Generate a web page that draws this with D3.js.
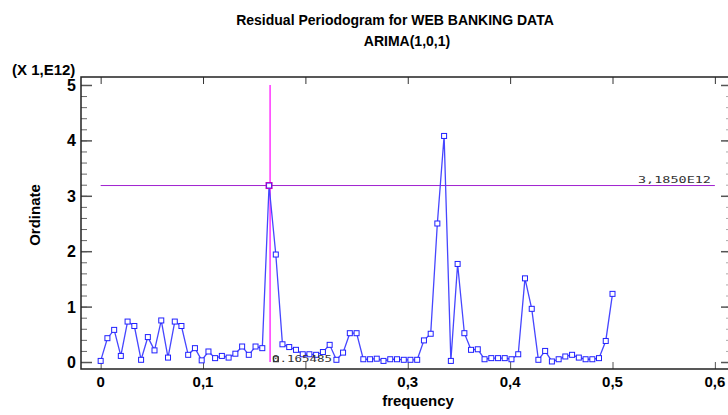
<!DOCTYPE html>
<html>
<head>
<meta charset="utf-8">
<script src="https://cdn.jsdelivr.net/npm/d3@7"></script>
<style>
  body { margin: 0; background: #fff; }
  svg text { font-family: "Liberation Sans", Arial, sans-serif; }
</style>
</head>
<body>
<div id="mount"></div>
<script>
// periodogram ordinates, in units of 1E12
var frequency = [
  0, 0.0066, 0.0132, 0.0197, 0.0263, 0.0329, 0.0395, 0.0461, 0.0526, 0.0592,
  0.0658, 0.0724, 0.0789, 0.0855, 0.0921, 0.0987, 0.1053, 0.1118, 0.1184, 0.125,
  0.1316, 0.1382, 0.1447, 0.1513, 0.1579, 0.1645, 0.1711, 0.1776, 0.1842, 0.1908,
  0.1974, 0.2039, 0.2105, 0.2171, 0.2237, 0.2303, 0.2368, 0.2434, 0.25, 0.2566,
  0.2632, 0.2697, 0.2763, 0.2829, 0.2895, 0.2961, 0.3026, 0.3092, 0.3158, 0.3224,
  0.3289, 0.3355, 0.3421, 0.3487, 0.3553, 0.3618, 0.3684, 0.375, 0.3816, 0.3882,
  0.3947, 0.4013, 0.4079, 0.4145, 0.4211, 0.4276, 0.4342, 0.4408, 0.4474, 0.4539,
  0.4605, 0.4671, 0.4737, 0.4803, 0.4868, 0.4934, 0.5
];
var ordinate = [
  0.02, 0.43, 0.58, 0.11, 0.73, 0.65, 0.04, 0.45, 0.21, 0.75,
  0.08, 0.73, 0.65, 0.13, 0.25, 0.03, 0.19, 0.07, 0.11, 0.08,
  0.15, 0.28, 0.13, 0.28, 0.25, 3.185, 1.94, 0.32, 0.27, 0.22,
  0.14, 0.14, 0.13, 0.18, 0.31, 0.04, 0.17, 0.52, 0.52, 0.05,
  0.05, 0.06, 0.02, 0.05, 0.05, 0.04, 0.04, 0.04, 0.39, 0.51,
  2.50, 4.08, 0.02, 1.77, 0.52, 0.22, 0.23, 0.05, 0.07, 0.07,
  0.07, 0.05, 0.14, 1.51, 0.96, 0.04, 0.20, 0.01, 0.05, 0.10,
  0.13, 0.08, 0.05, 0.05, 0.07, 0.38, 1.23
];
var xTicks = [0, 0.1, 0.2, 0.3, 0.4, 0.5, 0.6];
var yTicks = [0, 1, 2, 3, 4, 5];
var cursorFreq = 0.1655;
var cursorLabel = '0.165485';
var levelValue = 3.185;
var levelLabel = '3,1850E12';

var width = 728, height = 415;
var plotLeft = 81, plotRight = 729, plotTop = 77, plotBottom = 369;

var x = d3.scaleLinear().domain([-0.0192, 0.6138]).range([plotLeft, plotRight]);
var y = d3.scaleLinear().domain([-0.126, 5.144]).range([plotBottom, plotTop]);
var fmt = function (d) { return String(d).replace('.', ','); };

var $svg = d3.select('#mount').append('svg')
  .attr('width', width)
  .attr('height', height);

// titles
$svg.append('text').attr('x', 395).attr('y', 25).attr('text-anchor', 'middle')
  .style('font-size', '14px').style('font-weight', 'bold')
  .text('Residual Periodogram for WEB BANKING DATA');
$svg.append('text').attr('x', 407).attr('y', 46).attr('text-anchor', 'middle')
  .style('font-size', '14px').style('font-weight', 'bold')
  .text('ARIMA(1,0,1)');
$svg.append('text').attr('x', 12).attr('y', 75)
  .style('font-size', '15px').style('font-weight', 'bold')
  .text('(X 1,E12)');

// axes
var minor = d3.range(0, 5.01, 0.2);

$svg.append('g').attr('transform', 'translate(' + plotLeft + ',0)')
  .call(d3.axisRight(y).tickValues(minor).tickSize(6).tickFormat(''))
  .call(function (g) { g.select('.domain').remove(); g.selectAll('line').attr('stroke', '#666'); });
$svg.append('g').attr('transform', 'translate(' + plotLeft + ',0)')
  .call(d3.axisRight(y).tickValues(yTicks).tickSize(11).tickFormat(''))
  .call(function (g) { g.select('.domain').remove(); g.selectAll('line').attr('stroke', '#555').attr('stroke-width', 1.5); });
$svg.append('g')
  .selectAll('text').data(yTicks).enter().append('text')
  .attr('x', plotLeft - 5).attr('y', function (d) { return y(d) + 6; })
  .attr('text-anchor', 'end')
  .style('font-size', '16px').style('font-weight', 'bold')
  .text(function (d) { return d; });

$svg.append('g').attr('transform', 'translate(' + (plotRight - 1) + ',0)')
  .call(d3.axisLeft(y).tickValues(minor).tickSize(2).tickFormat(''))
  .call(function (g) { g.select('.domain').remove(); g.selectAll('line').attr('stroke', '#aaa'); });
$svg.append('g').attr('transform', 'translate(' + (plotRight - 1) + ',0)')
  .call(d3.axisLeft(y).tickValues(yTicks).tickSize(7).tickFormat(''))
  .call(function (g) { g.select('.domain').remove(); g.selectAll('line').attr('stroke', '#555').attr('stroke-width', 1.5); });

$svg.append('g').attr('transform', 'translate(0,' + plotBottom + ')')
  .call(d3.axisTop(x).tickValues(xTicks).tickSize(7).tickFormat(''))
  .call(function (g) { g.select('.domain').remove(); g.selectAll('line').attr('stroke', '#555'); });
$svg.append('g').attr('transform', 'translate(0,' + plotTop + ')')
  .call(d3.axisBottom(x).tickValues(xTicks).tickSize(7).tickFormat(''))
  .call(function (g) { g.select('.domain').remove(); g.selectAll('line').attr('stroke', '#333'); });
$svg.append('g').selectAll('text').data(xTicks).enter().append('text')
  .attr('x', function (d) { return x(d); }).attr('y', plotBottom + 18)
  .attr('text-anchor', 'middle')
  .style('font-size', '15px').style('font-weight', 'bold')
  .text(fmt);

// frame
$svg.append('path')
  .attr('d', 'M' + plotRight + ',' + plotTop + 'H' + plotLeft + 'V' + plotBottom + 'H' + plotRight)
  .attr('fill', 'none').attr('stroke', '#222').attr('stroke-width', 1.5);

$svg.append('text').attr('x', 418).attr('y', 406).attr('text-anchor', 'middle')
  .style('font-size', '15px').style('font-weight', 'bold')
  .text('frequency');
$svg.append('text').attr('transform', 'translate(40,215) rotate(-90)')
  .attr('text-anchor', 'middle')
  .style('font-size', '15px').style('font-weight', 'bold')
  .text('Ordinate');

// cursor lines
$svg.append('line')
  .attr('x1', x(0)).attr('x2', x(0.6))
  .attr('y1', y(levelValue)).attr('y2', y(levelValue))
  .attr('stroke', '#a020d0').attr('stroke-width', 1);
$svg.append('line')
  .attr('x1', x(cursorFreq)).attr('x2', x(cursorFreq))
  .attr('y1', y(5)).attr('y2', y(0))
  .attr('stroke', '#ff00ff').attr('stroke-width', 1.2);

// periodogram
var pts = frequency.map(function (f, i) { return [f, ordinate[i]]; });
var line = d3.line().x(function (d) { return x(d[0]); }).y(function (d) { return y(d[1]); });

$svg.append('path').datum(pts)
  .attr('d', line)
  .attr('fill', 'none').attr('stroke', '#4646ff').attr('stroke-width', 1.3);

$svg.append('g').selectAll('rect').data(pts).enter().append('rect')
  .attr('x', function (d) { return x(d[0]) - 2.5; })
  .attr('y', function (d) { return y(d[1]) - 2.5; })
  .attr('width', 5).attr('height', 5)
  .attr('fill', '#fff').attr('stroke', '#2020ff').attr('stroke-width', 1);

// cursor marker at the selected ordinate
$svg.append('rect')
  .attr('x', x(frequency[25]) - 3).attr('y', y(ordinate[25]) - 3)
  .attr('width', 6).attr('height', 6)
  .attr('fill', 'none').attr('stroke', '#c000c0').attr('stroke-width', 1);
$svg.append('rect')
  .attr('x', x(0.1712) - 2.5).attr('y', y(0.05) - 2.5)
  .attr('width', 5).attr('height', 5)
  .attr('fill', '#fff').attr('stroke', '#333').attr('stroke-width', 1);

// cursor labels
$svg.append('text').attr('x', 711).attr('y', 183).attr('text-anchor', 'end')
  .attr('textLength', 73).attr('lengthAdjust', 'spacingAndGlyphs')
  .style('font-family', '"DejaVu Sans Mono", monospace').style('font-size', '9px')
  .attr('fill', '#333').text(levelLabel);
$svg.append('text').attr('x', 272).attr('y', 362)
  .attr('textLength', 60).attr('lengthAdjust', 'spacingAndGlyphs')
  .style('font-family', '"DejaVu Sans Mono", monospace').style('font-size', '9px')
  .attr('fill', '#333').text(cursorLabel);
</script>
</body>
</html>
